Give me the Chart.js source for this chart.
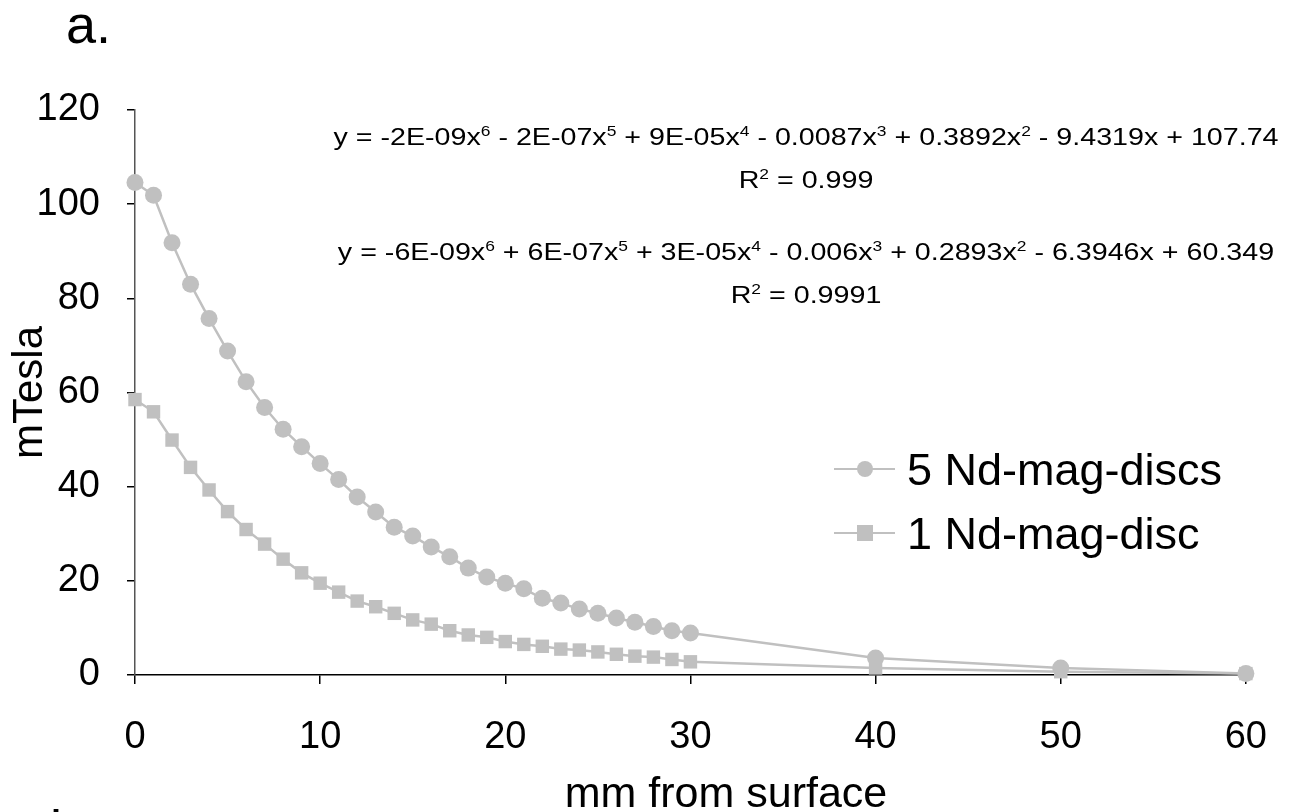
<!DOCTYPE html>
<html>
<head>
<meta charset="utf-8">
<script src="https://cdn.jsdelivr.net/npm/chart.js@4.4.1/dist/chart.umd.min.js"></script>
<style>
  html, body { margin: 0; padding: 0; background: #fff; }
  #wrap { width: 1298px; height: 812px; position: relative; }
</style>
</head>
<body>
<div id="wrap"><canvas id="graphCanvas" width="1298" height="812"></canvas></div>
<script>
// distance from magnet surface (mm)
const distances = [0, 1, 2, 3, 4, 5, 6, 7, 8, 9, 10, 11, 12, 13, 14, 15, 16, 17, 18, 19, 20,
    21, 22, 23, 24, 25, 26, 27, 28, 29, 30, 40, 50, 60];

// field strength (mTesla)
const fiveDiscs = [104.6, 101.9, 91.8, 83.0, 75.7, 68.8, 62.3, 56.8, 52.2, 48.5, 44.9,
    41.5, 37.8, 34.6, 31.4, 29.5, 27.2, 25.1, 22.7, 20.8, 19.5,
    18.3, 16.3, 15.3, 14.0, 13.1, 12.1, 11.2, 10.3, 9.4, 8.9, 3.6, 1.5, 0.3];
const oneDisc = [58.5, 55.9, 49.9, 44.1, 39.3, 34.7, 30.9, 27.8, 24.6, 21.7, 19.5,
    17.6, 15.7, 14.5, 13.1, 11.7, 10.8, 9.4, 8.5, 8.0, 7.1,
    6.5, 6.1, 5.5, 5.3, 4.9, 4.4, 4.0, 3.8, 3.3, 2.8, 1.5, 0.7, 0.3];

const seriesLabels = ['5 Nd-mag-discs', '1 Nd-mag-disc'];
const yTicks = [0, 20, 40, 60, 80, 100, 120];
const xTicks = [0, 10, 20, 30, 40, 50, 60];

// trendline annotations (^ marks a superscript digit)
const fitLines = [
    'y = -2E-09x^6 - 2E-07x^5 + 9E-05x^4 - 0.0087x^3 + 0.3892x^2 - 9.4319x + 107.74',
    'R^2 = 0.999',
    'y = -6E-09x^6 + 6E-07x^5 + 3E-05x^4 - 0.006x^3 + 0.2893x^2 - 6.3946x + 60.349',
    'R^2 = 0.9991'
];

const FONT = '"Liberation Sans", Arial, sans-serif';
const GREY = '#c0c0c0';

function toPoints(ys) {
    return distances.map((x, i) => ({ x: x, y: ys[i] }));
}

function splitSup(text) {
    const parts = [];
    let buf = '';
    for (let i = 0; i < text.length; i++) {
        if (text[i] === '^') {
            if (buf) parts.push({ t: buf, sup: false });
            buf = '';
            parts.push({ t: text[i + 1], sup: true });
            i++;
        } else {
            buf += text[i];
        }
    }
    if (buf) parts.push({ t: buf, sup: false });
    return parts;
}

function measureSup(ctx, parts, size) {
    const supSize = Math.round(size * 0.62);
    let total = 0;
    parts.forEach(p => {
        ctx.font = (p.sup ? supSize : size) + 'px ' + FONT;
        p.w = ctx.measureText(p.t).width;
        total += p.w;
    });
    return total;
}

// equations are drawn a bit stretched sideways, like the original
function drawSup(ctx, text, cx, cy, size, sx) {
    const parts = splitSup(text);
    const supSize = Math.round(size * 0.62);
    const total = measureSup(ctx, parts, size);
    ctx.save();
    ctx.translate(cx, cy);
    ctx.scale(sx, 1);
    let x = -total / 2;
    ctx.textBaseline = 'alphabetic';
    ctx.textAlign = 'left';
    parts.forEach(p => {
        ctx.font = (p.sup ? supSize : size) + 'px ' + FONT;
        ctx.fillText(p.t, x, p.sup ? -size * 0.4 : 0);
        x += p.w;
    });
    ctx.restore();
}

const annotations = {
    id: 'annotations',
    afterDraw(chart) {
        const ctx = chart.ctx;
        ctx.save();
        ctx.fillStyle = '#000';
        // panel letters
        ctx.font = '54px ' + FONT;
        ctx.textAlign = 'left';
        ctx.textBaseline = 'alphabetic';
        ctx.fillText('a.', 66, 43);
        ctx.fillText('b.', 50, 848);

        // x axis title (sits right of centre in the original)
        ctx.font = '43px ' + FONT;
        ctx.textAlign = 'center';
        ctx.fillText('mm from surface', 726, 807);

        // trendline equations
        const eqSize = 23;
        const sx = 945 / measureSup(ctx, splitSup(fitLines[0]), eqSize);
        const baselines = [145, 188, 260, 303];
        fitLines.forEach((t, i) => drawSup(ctx, t, 806, baselines[i], eqSize, sx));

        // legend
        chart.data.datasets.forEach((ds, i) => {
            const y = 469 + i * 64;
            ctx.strokeStyle = ds.borderColor;
            ctx.lineWidth = 2;
            ctx.beginPath();
            ctx.moveTo(834, y);
            ctx.lineTo(895, y);
            ctx.stroke();
            ctx.fillStyle = ds.pointBackgroundColor;
            if (ds.pointStyle === 'rect') {
                ctx.fillRect(865 - 8, y - 8, 16, 16);
            } else {
                ctx.beginPath();
                ctx.arc(865, y, 8, 0, Math.PI * 2);
                ctx.fill();
            }
            ctx.fillStyle = '#000';
            ctx.font = '45px ' + FONT;
            ctx.textAlign = 'left';
            ctx.textBaseline = 'alphabetic';
            ctx.fillText(ds.label, 907, y + 16);
        });
        ctx.restore();
    }
};

const context = document.getElementById('graphCanvas').getContext('2d');
const chart = new Chart(context, {
    type: 'scatter',
    data: {
        datasets: [
            {
                label: seriesLabels[0],
                data: toPoints(fiveDiscs),
                showLine: true,
                borderColor: GREY,
                borderWidth: 2.5,
                pointStyle: 'circle',
                pointRadius: 8.5,
                pointBackgroundColor: GREY,
                pointBorderWidth: 0,
                clip: false
            },
            {
                label: seriesLabels[1],
                data: toPoints(oneDisc),
                showLine: true,
                borderColor: GREY,
                borderWidth: 2.5,
                pointStyle: 'rect',
                pointRadius: 9.5,
                pointBackgroundColor: GREY,
                pointBorderWidth: 0,
                clip: false
            }
        ]
    },
    options: {
        responsive: false,
        animation: false,
        layout: { padding: { left: 0, top: 110, right: 44, bottom: 0 } },
        plugins: {
            legend: { display: false },
            tooltip: { enabled: false }
        },
        scales: {
            x: {
                type: 'linear',
                min: 0,
                max: 60,
                afterBuildTicks: (axis) => { axis.ticks = xTicks.map(v => ({ value: v })); },
                afterFit: (axis) => { axis.height = 137; },
                border: { color: '#000', width: 1.5 },
                grid: { drawOnChartArea: false, drawTicks: true, tickLength: 9, color: '#000', lineWidth: 1.5 },
                ticks: { color: '#000', font: { family: FONT, size: 38 }, padding: 31, maxRotation: 0 },
                title: { display: false }
            },
            y: {
                min: 0,
                max: 120,
                afterBuildTicks: (axis) => { axis.ticks = yTicks.map(v => ({ value: v })); },
                afterFit: (axis) => { axis.width = 135; },
                border: { color: '#555', width: 1.5 },
                grid: { drawOnChartArea: false, drawTicks: true, tickLength: 8, color: '#000', lineWidth: 1.5 },
                ticks: { color: '#000', font: { family: FONT, size: 38 }, padding: 27 },
                title: { display: true, text: 'mTesla', color: '#000',
                    font: { family: FONT, size: 42, lineHeight: 1 }, padding: { top: 9, bottom: 0 } }
            }
        }
    },
    plugins: [annotations]
});
</script>
</body>
</html>
